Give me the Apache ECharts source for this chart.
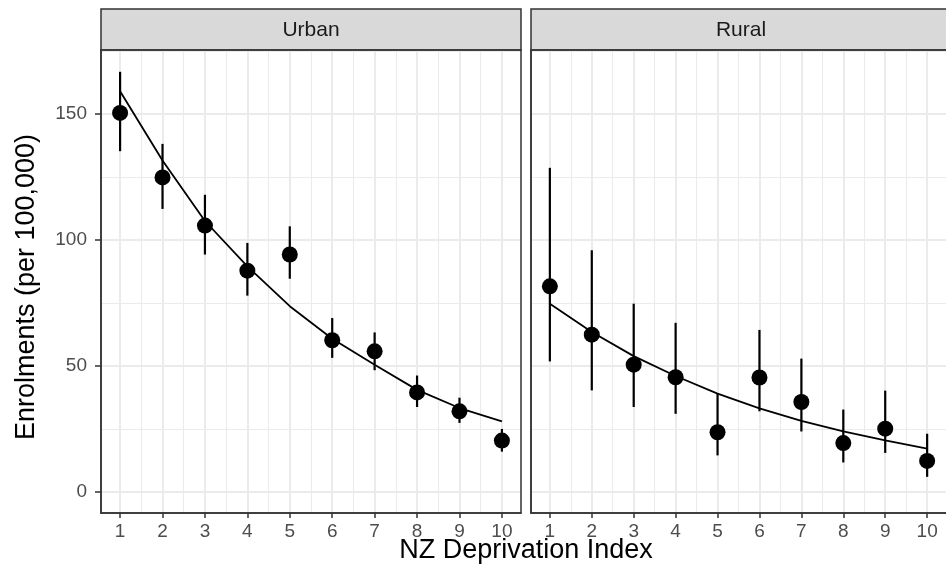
<!DOCTYPE html>
<html>
<head>
<meta charset="utf-8">
<script src="https://cdn.jsdelivr.net/npm/echarts@6/dist/echarts.min.js"></script>
<style>html,body{margin:0;padding:0;background:#fff}#c{width:946px;height:566px}</style>
</head>
<body>
<div id="c"></div>
<script>
const depIndex = [1, 2, 3, 4, 5, 6, 7, 8, 9, 10];
const xTicks = [1, 2, 3, 4, 5, 6, 7, 8, 9, 10];
const yTicks = [0, 50, 100, 150];
const panels = ['Urban', 'Rural'];

const urbanRate  = [150.4, 124.8, 105.7, 87.8, 94.2, 60.2, 55.8, 39.5, 32.0, 20.4];
const urbanLower = [135.2, 112.3, 94.2, 77.9, 84.6, 53.2, 48.3, 33.7, 27.4, 16.0];
const urbanUpper = [166.7, 138.1, 117.9, 98.8, 105.4, 69.0, 63.3, 46.2, 37.4, 25.0];
const urbanFit   = [159.0, 131.5, 107.5, 89.5, 73.7, 60.8, 50.5, 40.5, 33.3, 28.0];

const ruralRate  = [81.6, 62.4, 50.5, 45.5, 23.7, 45.4, 35.7, 19.4, 25.1, 12.3];
const ruralLower = [51.8, 40.3, 33.7, 31.0, 14.5, 32.0, 24.0, 11.7, 15.5, 6.0];
const ruralUpper = [128.6, 95.9, 74.7, 67.1, 39.0, 64.3, 52.9, 32.7, 40.2, 23.1];
const ruralFit   = [74.7, 63.5, 53.9, 46.0, 39.0, 33.2, 28.2, 24.0, 20.5, 17.2];

const FONT = 'Liberation Sans';
const X_MIN = 0.55, X_MAX = 10.45, Y_MIN = -8.35, Y_MAX = 175.35;
const xMinor = [1.5, 2.5, 3.5, 4.5, 5.5, 6.5, 7.5, 8.5, 9.5];
const yMinor = [25, 75, 125, 175];

const chart = echarts.init(document.getElementById('c'), null, {renderer: 'canvas'});

const gridBox = [
  {left: 101, top: 50, width: 420, height: 463},
  {left: 531, top: 50, width: 420, height: 463}
];

function mainX(gi) {
  return {
    type: 'value', gridIndex: gi, min: X_MIN, max: X_MAX, position: 'bottom',
    axisLine: {show: true, onZero: false, lineStyle: {color: '#333333', width: 1.5}},
    axisTick: {show: true, inside: false, length: 5, customValues: xTicks, lineStyle: {color: '#333333', width: 1.5}},
    axisLabel: {show: true, customValues: xTicks, margin: 9, color: '#4D4D4D', fontSize: 19, fontFamily: FONT},
    splitLine: {show: true, lineStyle: {color: '#EBEBEB', width: 2}}
  };
}
function minorX(gi) {
  return {
    type: 'value', gridIndex: gi, min: X_MIN, max: X_MAX, position: 'bottom',
    axisLine: {show: false, onZero: false},
    axisTick: {show: false, customValues: xMinor},
    axisLabel: {show: false, customValues: xMinor},
    splitLine: {show: true, lineStyle: {color: '#EBEBEB', width: 1.1}}
  };
}
function mainY(gi, labels) {
  return {
    type: 'value', gridIndex: gi, min: Y_MIN, max: Y_MAX, position: 'left',
    axisLine: {show: true, onZero: false, lineStyle: {color: '#333333', width: 1.5}},
    axisTick: {show: labels, inside: false, length: 6, customValues: yTicks, lineStyle: {color: '#333333', width: 1.5}},
    axisLabel: {show: labels, customValues: yTicks, margin: 14, color: '#4D4D4D', fontSize: 19, fontFamily: FONT},
    splitLine: {show: true, lineStyle: {color: '#EBEBEB', width: 2}}
  };
}
function minorY(gi) {
  return {
    type: 'value', gridIndex: gi, min: Y_MIN, max: Y_MAX, position: 'left',
    axisLine: {show: false, onZero: false},
    axisTick: {show: false, customValues: yMinor},
    axisLabel: {show: false, customValues: yMinor},
    splitLine: {show: true, lineStyle: {color: '#EBEBEB', width: 1.1}}
  };
}

function errRender(params, api) {
  const x = api.value(0);
  const p1 = api.coord([x, api.value(1)]);
  const p2 = api.coord([x, api.value(2)]);
  return {type: 'line', shape: {x1: p1[0], y1: p1[1], x2: p2[0], y2: p2[1]},
          style: {stroke: '#000000', lineWidth: 2.2}};
}

function seriesFor(ax, ay, rate, lower, upper, fit) {
  return [
    {type: 'line', xAxisIndex: ax, yAxisIndex: ay, data: depIndex.map((d, i) => [d, fit[i]]),
     showSymbol: false, symbol: 'none', lineStyle: {color: '#000000', width: 1.8}, z: 3, silent: true, animation: false},
    {type: 'custom', xAxisIndex: ax, yAxisIndex: ay, renderItem: errRender,
     data: depIndex.map((d, i) => [d, lower[i], upper[i]]), encode: {x: 0, y: [1, 2]}, z: 4, animation: false},
    {type: 'scatter', xAxisIndex: ax, yAxisIndex: ay, data: depIndex.map((d, i) => [d, rate[i]]),
     symbol: 'circle', symbolSize: 16, itemStyle: {color: '#000000', opacity: 1}, z: 5, animation: false}
  ];
}

const graphics = [];
panels.forEach((name, i) => {
  const g = gridBox[i];
  graphics.push({type: 'rect', shape: {x: g.left, y: 9, width: g.width, height: 41},
    style: {fill: '#D9D9D9', stroke: '#333333', lineWidth: 1.5}, z: 10});
  graphics.push({type: 'text', x: g.left + g.width / 2, y: 30,
    style: {text: name, fill: '#1A1A1A', font: '21px "' + FONT + '"', textAlign: 'center', textVerticalAlign: 'middle'}, z: 11});
  graphics.push({type: 'rect', shape: {x: g.left, y: g.top, width: g.width, height: g.height},
    style: {fill: null, stroke: '#333333', lineWidth: 1.5}, z: 10});
});
graphics.push({type: 'text', x: 526, y: 551,
  style: {text: 'NZ Deprivation Index', fill: '#000000', font: '27px "' + FONT + '"', textAlign: 'center', textVerticalAlign: 'middle'}, z: 11});
graphics.push({type: 'text', x: 27, y: 287, rotation: Math.PI / 2,
  style: {text: 'Enrolments (per 100,000)', fill: '#000000', font: '27px "' + FONT + '"', textAlign: 'center', textVerticalAlign: 'middle'}, z: 11});

chart.setOption({
  animation: false,
  backgroundColor: '#ffffff',
  grid: gridBox.map(g => Object.assign({show: false, containLabel: false}, g)),
  xAxis: [mainX(0), minorX(0), mainX(1), minorX(1)],
  yAxis: [mainY(0, true), minorY(0), mainY(1, false), minorY(1)],
  series: [].concat(
    seriesFor(0, 0, urbanRate, urbanLower, urbanUpper, urbanFit),
    seriesFor(2, 2, ruralRate, ruralLower, ruralUpper, ruralFit)
  ),
  graphic: graphics
});
</script>
</body>
</html>
